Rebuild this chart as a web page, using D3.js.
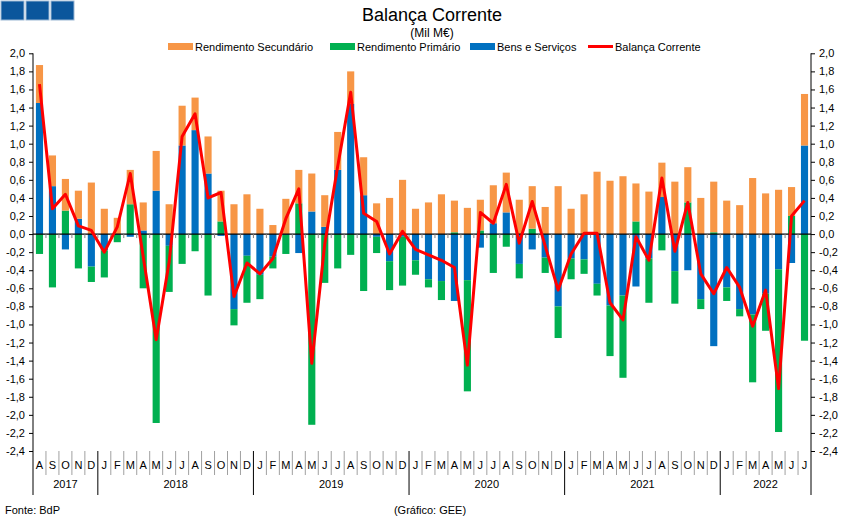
<!DOCTYPE html>
<html>
<head>
<meta charset="utf-8">
<script src="https://cdn.jsdelivr.net/npm/d3@7"></script>
<style>
  body { margin: 0; background: #fff; }
  svg { display: block; font-family: "Liberation Sans", Arial, sans-serif; }
</style>
</head>
<body>
<svg id="chart"></svg>
<script>
// meses de Ago 2017 a Jul 2022
const monthLetters = ["J", "F", "M", "A", "M", "J", "J", "A", "S", "O", "N", "D"];
const startMonth = 7; // Agosto
const years = ["2017", "2018", "2019", "2020", "2021", "2022"];

const bens = [1.45, 0.53, -0.17, 0.17, -0.36,
  -0.18, -0.01, -0.03, 0.04, 0.48, -0.13, 0.98, 1.15, 0.67, -0.02, -0.83, -0.24,
  -0.45, -0.25, -0.01, -0.21, 0.25, 0.08, 0.71, 1.44, 0.43, -0.03, -0.30, -0.03,
  -0.29, -0.50, -0.52, -0.74, -0.51, -0.15, 0.12, 0.24, -0.33, -0.17, -0.26, -0.80,
  -0.27, -0.28, -0.55, -0.79, -0.68, -0.58, -0.27, 0.41, -0.41, -0.40, -0.72, -1.24,
  -0.59, -0.83, -0.89, -0.66, -0.39, -0.32, 0.98];

const primario = [-0.22, -0.59, 0.26, -0.38, -0.17,
  -0.30, -0.08, 0.33, -0.60, -2.09, -0.51, -0.33, -0.19, -0.68, 0.14, -0.18, -0.52,
  -0.27, -0.13, -0.21, 0.34, -2.11, -0.54, -0.38, -0.23, -0.63, -0.18, -0.32, -0.54,
  -0.16, -0.09, -0.21, 0.02, -1.23, 0.04, -0.43, -0.14, -0.16, 0.06, -0.17, -0.35,
  -0.23, -0.16, -0.13, -0.56, -0.91, 0.14, -0.49, -0.18, -0.36, 0.35, -0.11, 0.02,
  -0.15, -0.08, -0.75, -0.41, -1.80, 0.20, -1.18];

const secundario = [0.42, 0.34, 0.35, 0.31, 0.57,
  0.28, 0.18, 0.38, 0.31, 0.44, 0.33, 0.44, 0.36, 0.41, 0.34, 0.33, 0.44,
  0.28, 0.10, 0.39, 0.37, 0.42, 0.35, 0.42, 0.36, 0.42, 0.34, 0.40, 0.60,
  0.28, 0.35, 0.44, 0.35, 0.29, 0.34, 0.42, 0.44, 0.38, 0.47, 0.30, 0.53,
  0.28, 0.44, 0.69, 0.59, 0.64, 0.42, 0.47, 0.38, 0.58, 0.39, 0.40, 0.56,
  0.37, 0.32, 0.62, 0.45, 0.49, 0.32, 0.57];

const balanca = [1.66, 0.28, 0.44, 0.09, 0.04,
  -0.20, 0.08, 0.67, -0.25, -1.17, -0.31, 1.08, 1.33, 0.40, 0.46, -0.69, -0.32,
  -0.44, -0.27, 0.17, 0.50, -1.43, -0.11, 0.75, 1.57, 0.23, 0.14, -0.22, 0.03,
  -0.17, -0.23, -0.29, -0.37, -1.45, 0.24, 0.12, 0.55, -0.10, 0.36, -0.13, -0.62,
  -0.22, 0.01, 0.01, -0.76, -0.95, -0.03, -0.29, 0.62, -0.19, 0.35, -0.44, -0.66,
  -0.37, -0.59, -1.02, -0.62, -1.71, 0.20, 0.37];

const yTicks = d3.range(-2.4, 2.01, 0.2).map(v => Math.round(v * 10) / 10);

const width = 849, height = 519;
const margin = { top: 53.3, right: 38, bottom: 68, left: 33 };

const svg = d3.select("#chart").attr("width", width).attr("height", height);

const rows = bens.map((b, i) => ({ i: i, bens: b, prim: primario[i], sec: secundario[i] }));
const keys = ["bens", "prim", "sec"];
const colors = { bens: "#0070c0", prim: "#00b050", sec: "#f79646" };

const x = d3.scaleBand()
  .domain(rows.map(d => d.i))
  .range([margin.left, width - margin.right])
  .paddingInner(0.45)
  .paddingOuter(0.225);
const step = x.step();

const y = d3.scaleLinear().domain([-2.4, 2.0]).range([height - margin.bottom, margin.top]);

const fmt = v => d3.format(".1f")(v).replace(".", ",").replace("−", "-");

// barras empilhadas
const series = d3.stack().keys(keys).offset(d3.stackOffsetDiverging)(rows);

svg.append("g")
  .selectAll("g")
  .data(series)
  .enter()
  .append("g")
  .attr("fill", d => colors[d.key])
  .selectAll("rect")
  .data(d => d)
  .enter()
  .append("rect")
  .attr("x", d => x(d.data.i))
  .attr("width", x.bandwidth())
  .attr("y", d => y(Math.max(d[0], d[1])))
  .attr("height", d => Math.abs(y(d[0]) - y(d[1])));

// linha do zero e marcas
svg.append("line")
  .attr("x1", margin.left).attr("x2", width - margin.right)
  .attr("y1", y(0)).attr("y2", y(0))
  .attr("stroke", "#000").attr("stroke-width", 1.2);

svg.append("g")
  .selectAll("line")
  .data(d3.range(1, rows.length))
  .enter()
  .append("line")
  .attr("x1", d => margin.left + d * step).attr("x2", d => margin.left + d * step)
  .attr("y1", y(0)).attr("y2", y(0) + 4)
  .attr("stroke", "#808080");

// linha da balança corrente
const line = d3.line()
  .x((d, i) => x(i) + x.bandwidth() / 2)
  .y(d => y(d));

svg.append("path")
  .datum(balanca)
  .attr("d", line)
  .attr("fill", "none")
  .attr("stroke", "#ff0000")
  .attr("stroke-width", 3)
  .attr("stroke-linejoin", "round");

// eixos
const yLeft = d3.axisLeft(y).tickValues(yTicks).tickFormat(fmt).tickSize(4).tickPadding(4);
const yRight = d3.axisRight(y).tickValues(yTicks).tickFormat(fmt).tickSize(4).tickPadding(4);

const gl = svg.append("g").attr("transform", "translate(" + margin.left + ",0)").call(yLeft);
const gr = svg.append("g").attr("transform", "translate(" + (width - margin.right) + ",0)").call(yRight);
[gl, gr].forEach(g => {
  g.select(".domain").remove();
  g.selectAll("text").style("font-size", "11px").attr("fill", "#000");
  g.selectAll("line").attr("stroke", "#000");
});

const bottom = height - margin.bottom;
[margin.left, width - margin.right].forEach(px => {
  svg.append("line")
    .attr("x1", px).attr("x2", px)
    .attr("y1", margin.top).attr("y2", bottom + 44)
    .attr("stroke", "#000");
});

// meses
const gm = svg.append("g");
rows.forEach((d, i) => {
  const m = (startMonth + i) % 12;
  gm.append("text")
    .attr("x", margin.left + i * step + step / 2)
    .attr("y", bottom + 18)
    .attr("text-anchor", "middle")
    .style("font-size", "11px")
    .text(monthLetters[m]);
  if (i > 0) {
    const isYear = m === 0;
    gm.append("line")
      .attr("x1", margin.left + i * step).attr("x2", margin.left + i * step)
      .attr("y1", bottom).attr("y2", bottom + (isYear ? 44 : 24))
      .attr("stroke", isYear ? "#000" : "#a0a0a0");
  }
});

// anos
const yearStarts = [0];
rows.forEach((d, i) => { if (i > 0 && (startMonth + i) % 12 === 0) yearStarts.push(i); });
yearStarts.forEach((s, k) => {
  const e = k + 1 < yearStarts.length ? yearStarts[k + 1] : rows.length;
  svg.append("text")
    .attr("x", margin.left + (s + e) / 2 * step)
    .attr("y", bottom + 37)
    .attr("text-anchor", "middle")
    .style("font-size", "11px")
    .text(years[k]);
});

// títulos
svg.append("text").attr("x", 432).attr("y", 21).attr("text-anchor", "middle")
  .style("font-size", "18px").text("Balança Corrente");
svg.append("text").attr("x", 432).attr("y", 37).attr("text-anchor", "middle")
  .style("font-size", "12px").text("(Mil M€)");

// quadrados azuis
[1, 26, 51].forEach(px => {
  svg.append("rect").attr("x", px).attr("y", 1).attr("width", 23).attr("height", 19)
    .attr("fill", "#0b569c").attr("stroke", "#9bb7d4").attr("stroke-width", 1);
});

// legenda
const legendItems = [
  { label: "Rendimento Secundário", color: colors.sec, type: "rect", x: 168 },
  { label: "Rendimento Primário", color: colors.prim, type: "rect", x: 330 },
  { label: "Bens e Serviços", color: colors.bens, type: "rect", x: 470 },
  { label: "Balança Corrente", color: "#ff0000", type: "line", x: 588 }
];
const lg = svg.append("g");
legendItems.forEach(it => {
  if (it.type === "rect") {
    lg.append("rect").attr("x", it.x).attr("y", 43).attr("width", 25).attr("height", 7).attr("fill", it.color);
  } else {
    lg.append("line").attr("x1", it.x).attr("x2", it.x + 25).attr("y1", 46.5).attr("y2", 46.5)
      .attr("stroke", it.color).attr("stroke-width", 3);
  }
  lg.append("text").attr("x", it.x + 27).attr("y", 51).style("font-size", "11px").text(it.label);
});

// rodapé
svg.append("text").attr("x", 5).attr("y", 514).style("font-size", "11px").text("Fonte: BdP");
svg.append("text").attr("x", 430).attr("y", 514).attr("text-anchor", "middle")
  .style("font-size", "11px").text("(Gráfico: GEE)");
</script>
</body>
</html>
